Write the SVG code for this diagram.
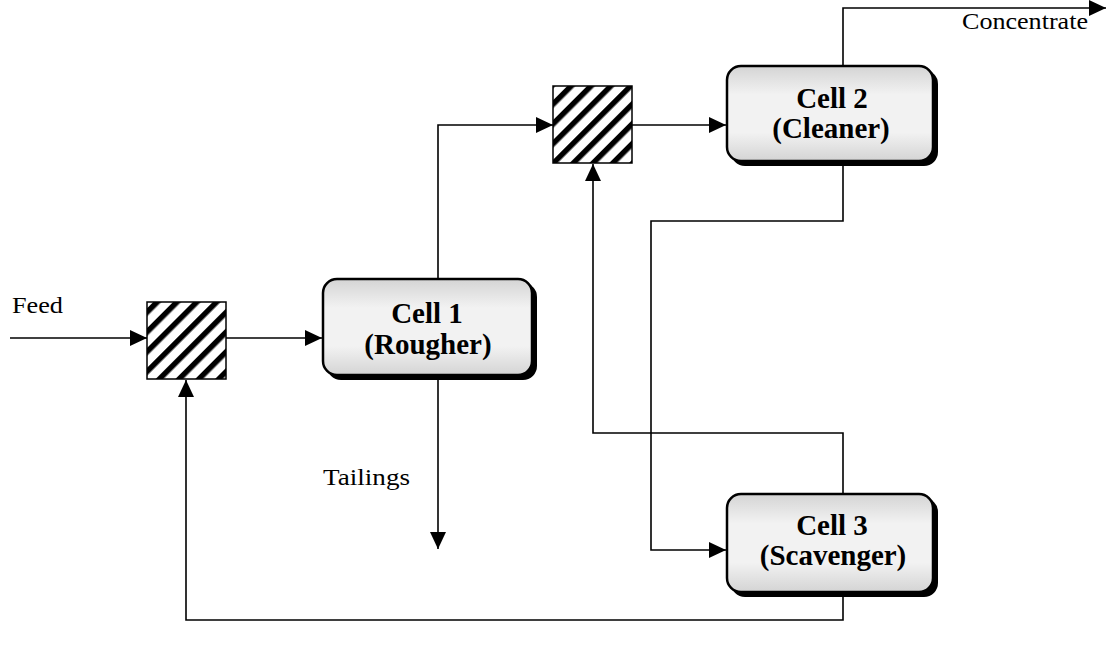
<svg xmlns="http://www.w3.org/2000/svg" width="1109" height="648" viewBox="0 0 1109 648">
<style>
.line{fill:none;stroke:#000;stroke-width:1.6}
.box{fill:url(#cellfill);stroke:#000;stroke-width:2.5}
.shadow{fill:#000}
.mixer{fill:url(#hatch);stroke:#000;stroke-width:1.5}
.lbl{font-family:"Liberation Serif","Times New Roman",serif;font-size:23px;fill:#000}
.cell{font-family:"Liberation Serif","Times New Roman",serif;font-size:29px;font-weight:bold;fill:#000;text-anchor:middle}
</style>
<defs>
<pattern id="hatch" width="14" height="14" patternUnits="userSpaceOnUse" patternTransform="rotate(45)">
<rect width="14" height="14" fill="#fff"/>
<rect x="0" y="0" width="5.5" height="14" fill="#000"/>
</pattern>
<linearGradient id="cellfill" x1="0" y1="0" x2="0" y2="1">
<stop offset="0" stop-color="#d4d4d4"/>
<stop offset="0.3" stop-color="#f2f2f2"/>
<stop offset="0.7" stop-color="#f2f2f2"/>
<stop offset="1" stop-color="#d4d4d4"/>
</linearGradient>
<marker id="arrow" markerUnits="userSpaceOnUse" markerWidth="18" markerHeight="16" refX="17" refY="8" orient="auto">
<path d="M0,0 L17,8 L0,16 Z" fill="#000"/>
</marker>
</defs>

<g id="connectors">
<path class="line" d="M10,338 H147" marker-end="url(#arrow)"/>
<path class="line" d="M226,338 H322" marker-end="url(#arrow)"/>
<path class="line" d="M438,279 V125 H553" marker-end="url(#arrow)"/>
<path class="line" d="M632,125 H726" marker-end="url(#arrow)"/>
<path class="line" d="M843,66 V8 H1106" marker-end="url(#arrow)"/>
<path class="line" d="M843,165 V221 H651 V550 H726" marker-end="url(#arrow)"/>
<path class="line" d="M843,494 V433 H593 V164" marker-end="url(#arrow)"/>
<path class="line" d="M843,596 V620 H186 V380" marker-end="url(#arrow)"/>
<path class="line" d="M438,379 V549" marker-end="url(#arrow)"/>
</g>

<g id="mixer1">
<rect class="mixer" x="147" y="302" width="79" height="77"/>
</g>
<g id="mixer2">
<rect class="mixer" x="553" y="86" width="79" height="77"/>
</g>

<g id="cell1">
<rect class="shadow" x="327" y="283" width="210" height="97" rx="14"/>
<rect class="box" x="323" y="279" width="209" height="96" rx="14"/>
<text class="cell" x="427" y="323">Cell 1</text>
<text class="cell" x="428" y="354">(Rougher)</text>
</g>

<g id="cell2">
<rect class="shadow" x="731" y="70" width="207" height="96" rx="14"/>
<rect class="box" x="727" y="66" width="206" height="95" rx="14"/>
<text class="cell" x="832" y="108">Cell 2</text>
<text class="cell" x="831" y="138">(Cleaner)</text>
</g>

<g id="cell3">
<rect class="shadow" x="731" y="498" width="207" height="99" rx="14"/>
<rect class="box" x="727" y="494" width="206" height="98" rx="14"/>
<text class="cell" x="832" y="535">Cell 3</text>
<text class="cell" x="833" y="565">(Scavenger)</text>
</g>

<g id="labels">
<text class="lbl" x="12" y="313" textLength="51" lengthAdjust="spacingAndGlyphs">Feed</text>
<text class="lbl" x="323" y="485" textLength="87" lengthAdjust="spacingAndGlyphs">Tailings</text>
<text class="lbl" x="962" y="29" textLength="126" lengthAdjust="spacingAndGlyphs">Concentrate</text>
</g>
</svg>
